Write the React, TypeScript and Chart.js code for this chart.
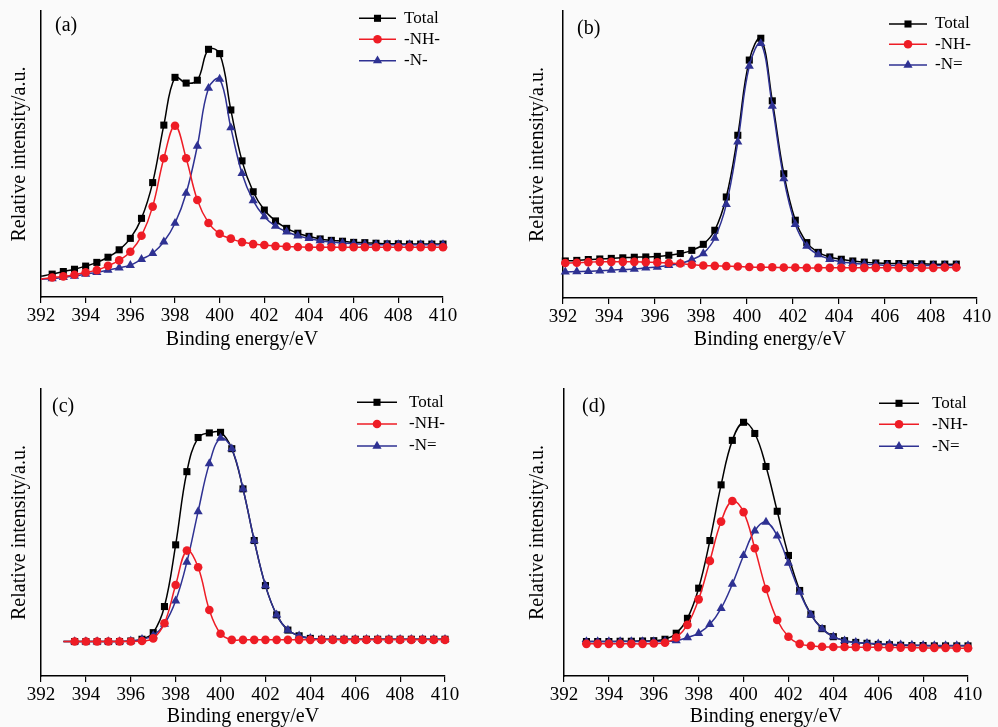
import React, { useEffect, useRef } from "react";
import { Chart, registerables } from "chart.js";

Chart.register(...registerables);

const FONT = "'Liberation Serif', 'Times New Roman', Times, serif";
const BLACK = "#000000";
const RED = "#ee1c25";
const BLUE = "#2e3192";
const BG = "#fafafa";

// ---------- Panel (a) ----------
const aEnergy = [392, 392.5, 393, 393.5, 394, 394.5, 395, 395.5, 396, 396.5, 397, 397.5, 398, 398.5, 399, 399.5, 400, 400.5, 401, 401.5, 402, 402.5, 403, 403.5, 404, 404.5, 405, 405.5, 406, 406.5, 407, 407.5, 408, 408.5, 409, 409.5, 410];
const aTotal = [7.3, 8.0, 8.9, 9.7, 10.8, 12.1, 13.9, 16.5, 20.5, 27.5, 40.0, 60.1, 76.8, 74.8, 75.8, 86.6, 85.1, 65.4, 47.6, 36.8, 30.4, 26.6, 24.0, 22.3, 21.2, 20.3, 19.8, 19.5, 19.1, 19.0, 18.8, 18.6, 18.6, 18.5, 18.5, 18.5, 18.5];
const aNH = [6.2, 6.8, 7.2, 7.8, 8.6, 9.4, 10.9, 12.8, 15.8, 21.4, 31.6, 48.5, 59.9, 48.5, 33.9, 25.9, 22.1, 20.4, 19.2, 18.5, 18.2, 17.8, 17.6, 17.5, 17.4, 17.4, 17.4, 17.4, 17.4, 17.4, 17.4, 17.4, 17.4, 17.4, 17.4, 17.4, 17.4];
const aN = [6.2, 6.4, 6.9, 7.3, 8.0, 8.6, 9.4, 10.2, 11.1, 13.2, 15.3, 19.3, 25.8, 36.3, 52.8, 73.0, 76.2, 59.2, 43.2, 33.7, 28.1, 24.8, 22.8, 21.4, 20.5, 19.7, 19.2, 18.9, 18.6, 18.4, 18.3, 18.3, 18.3, 18.3, 18.3, 18.3, 18.3];

// ---------- Panel (b) ----------
const bEnergy = [392.1, 392.6, 393.1, 393.6, 394.1, 394.6, 395.1, 395.6, 396.1, 396.6, 397.1, 397.6, 398.1, 398.6, 399.1, 399.6, 400.1, 400.6, 401.1, 401.6, 402.1, 402.6, 403.1, 403.6, 404.1, 404.6, 405.1, 405.6, 406.1, 406.6, 407.1, 407.6, 408.1, 408.6, 409.1];
const bTotal = [12.9, 13.1, 13.4, 13.6, 13.8, 14.0, 14.2, 14.3, 14.5, 14.9, 15.5, 16.6, 18.7, 23.6, 35.2, 56.7, 82.9, 90.5, 68.7, 43.3, 27.1, 19.3, 15.9, 14.3, 13.5, 12.9, 12.5, 12.2, 12.0, 12.0, 11.9, 11.9, 11.8, 11.8, 11.8];
const bNH = [12.2, 12.3, 12.5, 12.6, 12.6, 12.6, 12.6, 12.5, 12.4, 12.2, 12.0, 11.6, 11.3, 11.2, 11.1, 11.0, 10.8, 10.7, 10.7, 10.6, 10.6, 10.5, 10.5, 10.5, 10.5, 10.5, 10.5, 10.5, 10.5, 10.5, 10.5, 10.5, 10.5, 10.6, 10.6];
const bN = [9.1, 9.2, 9.3, 9.5, 9.7, 9.9, 10.1, 10.5, 10.8, 11.4, 12.0, 13.4, 15.5, 20.9, 32.6, 54.4, 80.8, 88.7, 66.9, 41.6, 25.7, 18.1, 15.1, 13.5, 12.6, 12.1, 11.8, 11.6, 11.4, 11.3, 11.3, 11.3, 11.3, 11.3, 11.3];

// ---------- Panel (c) ----------
const cEnergy = [393, 393.5, 394, 394.5, 395, 395.5, 396, 396.5, 397, 397.5, 398, 398.5, 399, 399.5, 400, 400.5, 401, 401.5, 402, 402.5, 403, 403.5, 404, 404.5, 405, 405.5, 406, 406.5, 407, 407.5, 408, 408.5, 409, 409.5, 410];
const cTotal = [12.0, 12.0, 12.0, 12.0, 12.0, 12.0, 12.2, 12.8, 15.1, 24.2, 45.7, 71.2, 83.1, 84.7, 84.9, 79.2, 65.2, 47.2, 31.5, 21.3, 16.0, 14.0, 13.1, 12.8, 12.8, 12.8, 12.8, 12.8, 12.8, 12.8, 12.8, 12.8, 12.8, 12.8, 12.8];
const cNH = [12.0, 12.0, 12.0, 12.0, 12.0, 12.0, 12.0, 12.2, 13.1, 18.4, 31.7, 43.7, 37.9, 23.0, 14.7, 12.6, 12.6, 12.6, 12.6, 12.6, 12.6, 12.6, 12.6, 12.6, 12.6, 12.6, 12.6, 12.6, 12.6, 12.6, 12.6, 12.6, 12.6, 12.6, 12.6];
const cN = [12.0, 12.0, 12.0, 12.0, 12.0, 12.0, 12.2, 12.8, 14.1, 18.1, 26.2, 39.7, 57.3, 74.0, 82.9, 79.2, 65.2, 47.2, 31.5, 21.3, 16.0, 14.0, 13.1, 12.8, 12.8, 12.8, 12.8, 12.8, 12.8, 12.8, 12.8, 12.8, 12.8, 12.8, 12.8];

// ---------- Panel (d) ----------
const dEnergy = [392.8, 393, 393.5, 394, 394.5, 395, 395.5, 396, 396.5, 397, 397.5, 398, 398.5, 399, 399.5, 400, 400.5, 401, 401.5, 402, 402.5, 403, 403.5, 404, 404.5, 405, 405.5, 406, 406.5, 407, 407.5, 408, 408.5, 409, 409.5, 410];
const dTotal = [12.0, 12.0, 12.0, 12.0, 12.1, 12.1, 12.2, 12.3, 12.8, 14.9, 20.1, 30.6, 47.2, 66.6, 82.1, 88.4, 84.5, 73.0, 57.4, 42.0, 29.8, 21.5, 16.5, 13.7, 12.3, 11.7, 11.4, 11.0, 10.9, 10.7, 10.6, 10.6, 10.5, 10.5, 10.5, 10.5];
const dNH = [11.2, 11.2, 11.2, 11.2, 11.2, 11.2, 11.2, 11.3, 11.6, 13.4, 17.8, 26.7, 40.1, 53.8, 61.0, 57.1, 44.5, 30.3, 19.5, 13.7, 11.2, 10.5, 10.2, 10.1, 10.1, 10.0, 10.0, 10.0, 9.9, 9.9, 9.9, 9.8, 9.8, 9.8, 9.7, 9.7];
const dN = [12.0, 12.0, 12.0, 12.0, 12.0, 12.0, 12.0, 12.0, 12.1, 12.3, 13.4, 14.9, 18.0, 23.6, 32.0, 42.0, 50.6, 53.6, 48.8, 39.3, 29.2, 21.3, 16.4, 13.7, 12.3, 11.7, 11.4, 11.2, 11.1, 10.9, 10.8, 10.7, 10.6, 10.6, 10.6, 10.6];

const xTicksMin = 392;
const xTicksMax = 410;
const xTickStep = 2;
const xTitle = "Binding energy/eV";
const yTitle = "Relative intensity/a.u.";

type Spec = {
  label: string;
  nLabel: string;
  energy: number[];
  total: number[];
  nh: number[];
  n: number[];
  hideFirst: boolean;
  canvas: { x: number; y: number; w: number; h: number };
  plot: { l: number; t: number; r: number; b: number };
  xTitleY: number;
  yTitleX: number;
  labelPos: { x: number; y: number };
  legend: { x0: number; x1: number; tx: number; rows: number[] };
};

const specs: Spec[] = [
  {
    label: "(a)", nLabel: "-N-", energy: aEnergy, total: aTotal, nh: aNH, n: aN, hideFirst: true,
    canvas: { x: 0, y: 0, w: 499, h: 363 },
    plot: { l: 41, t: 11, r: 443, b: 297 },
    xTitleY: 339.5, yTitleX: 20,
    labelPos: { x: 55, y: 26 },
    legend: { x0: 359, x1: 396, tx: 404, rows: [18.3, 39.3, 60.7] },
  },
  {
    label: "(b)", nLabel: "-N=", energy: bEnergy, total: bTotal, nh: bNH, n: bN, hideFirst: false,
    canvas: { x: 499, y: 0, w: 499, h: 363 },
    plot: { l: 563, t: 11, r: 977, b: 298 },
    xTitleY: 340, yTitleX: 538,
    labelPos: { x: 577, y: 29 },
    legend: { x0: 889, x1: 927, tx: 935, rows: [24, 44.3, 65] },
  },
  {
    label: "(c)", nLabel: "-N=", energy: cEnergy, total: cTotal, nh: cNH, n: cN, hideFirst: true,
    canvas: { x: 0, y: 363, w: 499, h: 380 },
    plot: { l: 41, t: 389, r: 445, b: 676 },
    xTitleY: 716.5, yTitleX: 20,
    labelPos: { x: 52, y: 407 },
    legend: { x0: 357, x1: 397, tx: 409, rows: [402.3, 424, 446] },
  },
  {
    label: "(d)", nLabel: "-N=", energy: dEnergy, total: dTotal, nh: dNH, n: dN, hideFirst: true,
    canvas: { x: 499, y: 363, w: 499, h: 380 },
    plot: { l: 564, t: 389, r: 968, b: 676 },
    xTitleY: 716.5, yTitleX: 538,
    labelPos: { x: 582, y: 407 },
    legend: { x0: 879, x1: 919, tx: 932, rows: [403.3, 424.3, 446.3] },
  },
];

const SQ_R = 5;
const CI_R = 4.3;
const TR_R = 5.3;

function drawMarker(ctx: CanvasRenderingContext2D, style: string, r: number, x: number, y: number, color: string) {
  ctx.save();
  ctx.fillStyle = color;
  ctx.beginPath();
  if (style === "rect") {
    const s = Math.SQRT1_2 * r;
    ctx.rect(x - s, y - s, 2 * s, 2 * s);
  } else if (style === "circle") {
    ctx.arc(x, y, r, 0, Math.PI * 2);
  } else {
    let a = 0;
    for (let k = 0; k < 3; k++) {
      const px = x + Math.sin(a) * r;
      const py = y - Math.cos(a) * r;
      if (k === 0) ctx.moveTo(px, py);
      else ctx.lineTo(px, py);
      a += (2 * Math.PI) / 3;
    }
    ctx.closePath();
  }
  ctx.fill();
  ctx.restore();
}

function Panel({ spec }: { spec: Spec }) {
  const ref = useRef<HTMLCanvasElement>(null);
  useEffect(() => {
    const s = spec;
    const cx = s.canvas.x;
    const cy = s.canvas.y;
    const mk = (xs: number[], ys: number[]) => xs.map((x, i) => ({ x, y: ys[i] }));
    const rad = (r: number) => (c: any) => (s.hideFirst && c.dataIndex === 0 ? 0 : r);
    const yWidth = s.plot.l - cx;
    const xHeight = cy + s.canvas.h - s.plot.b;
    const xTitlePadBottom = cy + s.canvas.h - s.xTitleY - 12;
    const yTitlePadTop = s.yTitleX - cx - 12;

    const legendItems = [
      { label: "Total", color: BLACK, style: "rect", r: SQ_R },
      { label: "-NH-", color: RED, style: "circle", r: CI_R },
      { label: s.nLabel, color: BLUE, style: "triangle", r: TR_R },
    ];

    const decor = {
      id: "panelDecor",
      afterDraw(chart: any) {
        const ctx: CanvasRenderingContext2D = chart.ctx;
        ctx.save();
        ctx.fillStyle = "#000";
        ctx.textBaseline = "middle";
        ctx.textAlign = "left";
        ctx.font = `20px ${FONT}`;
        ctx.fillText(s.label, s.labelPos.x - cx, s.labelPos.y - cy);
        ctx.font = `17px ${FONT}`;
        legendItems.forEach((it, i) => {
          const y = s.legend.rows[i] - cy;
          const x0 = s.legend.x0 - cx;
          const x1 = s.legend.x1 - cx;
          ctx.strokeStyle = it.color;
          ctx.lineWidth = 1.5;
          ctx.beginPath();
          ctx.moveTo(x0, y);
          ctx.lineTo(x1, y);
          ctx.stroke();
          drawMarker(ctx, it.style, it.r, (x0 + x1) / 2, y, it.color);
          ctx.fillStyle = "#000";
          ctx.fillText(it.label, s.legend.tx - cx, y);
        });
        ctx.restore();
      },
    };

    const common = {
      borderWidth: 1.5,
      tension: 0.4,
      pointBorderWidth: 0,
      clip: false as any,
    };

    const chart = new Chart(ref.current as HTMLCanvasElement, {
      type: "line",
      data: {
        datasets: [
          { ...common, label: "Total", data: mk(s.energy, s.total), borderColor: BLACK, backgroundColor: BLACK, pointBackgroundColor: BLACK, pointStyle: "rect", pointRadius: rad(SQ_R), order: 3 },
          { ...common, label: "-NH-", data: mk(s.energy, s.nh), borderColor: RED, backgroundColor: RED, pointBackgroundColor: RED, pointStyle: "circle", pointRadius: rad(CI_R), order: 1 },
          { ...common, label: s.nLabel, data: mk(s.energy, s.n), borderColor: BLUE, backgroundColor: BLUE, pointBackgroundColor: BLUE, pointStyle: "triangle", pointRadius: rad(TR_R), order: 2 },
        ] as any,
      },
      options: {
        animation: false,
        responsive: false,
        events: [],
        layout: {
          padding: { left: 0, top: s.plot.t - cy, right: cx + s.canvas.w - s.plot.r, bottom: 0 },
        },
        plugins: {
          legend: { display: false },
          tooltip: { enabled: false },
        },
        scales: {
          x: {
            type: "linear",
            min: xTicksMin,
            max: xTicksMax,
            ticks: {
              stepSize: xTickStep,
              autoSkip: false,
              maxRotation: 0,
              color: "#000",
              padding: 2,
              font: { family: FONT, size: 19 },
            },
            grid: { display: true, drawOnChartArea: false, drawTicks: true, tickLength: 6, color: "#000", lineWidth: 1.2 },
            border: { display: true, color: "#000", width: 1.5 },
            title: {
              display: true,
              text: xTitle,
              color: "#000",
              font: { family: FONT, size: 20 },
              padding: { top: 0, bottom: xTitlePadBottom },
            },
            afterFit: (sc: any) => {
              sc.height = xHeight;
            },
          },
          y: {
            type: "linear",
            min: 0,
            max: 100,
            ticks: { display: false },
            grid: { display: false },
            border: { display: true, color: "#000", width: 1.5 },
            title: {
              display: true,
              text: yTitle,
              color: "#000",
              font: { family: FONT, size: 20 },
              padding: { top: yTitlePadTop, bottom: 0 },
            },
            afterFit: (sc: any) => {
              sc.width = yWidth;
            },
          },
        },
      } as any,
      plugins: [decor],
    });
    return () => chart.destroy();
  }, [spec]);

  return (
    <canvas
      ref={ref}
      width={spec.canvas.w}
      height={spec.canvas.h}
      style={{ position: "absolute", left: spec.canvas.x, top: spec.canvas.y, width: spec.canvas.w, height: spec.canvas.h }}
    />
  );
}

export default function App() {
  return (
    <div style={{ position: "absolute", left: 0, top: 0, width: 998, height: 727, overflow: "hidden", background: BG }}>
      {specs.map((s) => (
        <Panel key={s.label} spec={s} />
      ))}
    </div>
  );
}
